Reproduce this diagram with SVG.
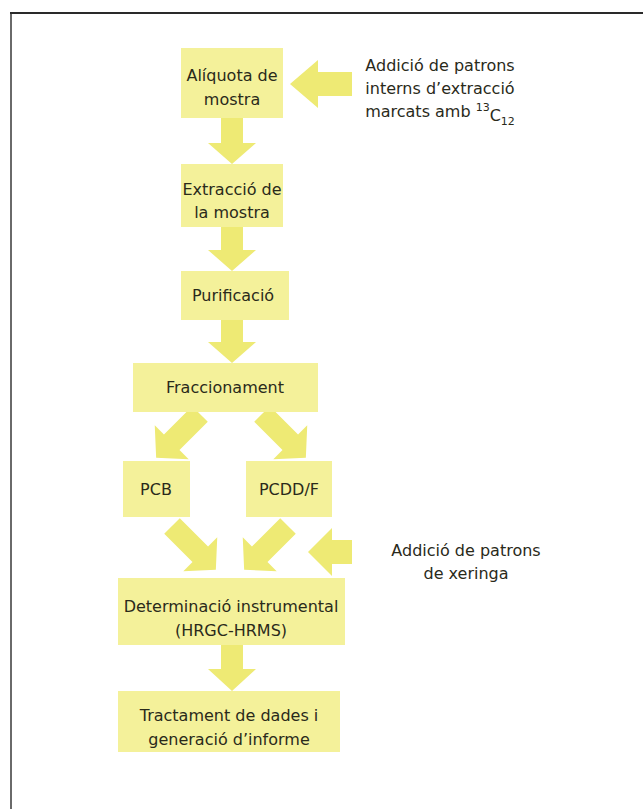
<svg xmlns="http://www.w3.org/2000/svg" width="643" height="809" viewBox="0 0 643 809">
<style>
.box{fill:#f4f19a}
.arr{fill:#eeea74}
text{font-family:"DejaVu Sans","Liberation Sans",sans-serif;font-size:16px;fill:#2a2a1a;text-anchor:middle}
</style>
<rect width="643" height="809" fill="#ffffff"/>
<path d="M11,809 V13" stroke="#6a6a6a" stroke-width="2" fill="none"/>
<path d="M10,13 H643" stroke="#2a2a2a" stroke-width="2" fill="none"/>
<g id="connectors">
  <polygon class="arr" points="221,118 243,118 243,143 256,143 232,164 208,143 221,143"/>
  <polygon class="arr" points="221,227 243,227 243,250 256,250 232,271 208,250 221,250"/>
  <polygon class="arr" points="221,320 243,320 243,342 256,342 232,363 208,342 221,342"/>
  <polygon class="arr" points="221,645 243,645 243,669 256,669 232,691 208,669 221,669"/>
  <polygon class="arr" points="352,72 352,96 318,96 318,108 290,84 318,60 318,72"/>
  <polygon class="arr" points="352,540 352,564 332,564 332,576 308,552 332,528 332,540"/>
  <g transform="translate(200,414) rotate(135)"><polygon class="arr" points="0,-11 40,-11 40,-24 62,0 40,24 40,11 0,11"/></g>
  <g transform="translate(262,414) rotate(45)"><polygon class="arr" points="0,-11 40,-11 40,-24 62,0 40,24 40,11 0,11"/></g>
  <g transform="translate(172,526) rotate(45)"><polygon class="arr" points="0,-11 40,-11 40,-24 62,0 40,24 40,11 0,11"/></g>
  <g transform="translate(288,526) rotate(135)"><polygon class="arr" points="0,-11 40,-11 40,-24 62,0 40,24 40,11 0,11"/></g>
</g>
<g id="n1"><rect class="box" x="181" y="48" width="102" height="70"/><text x="232" y="81">Alíquota de</text><text x="232" y="105">mostra</text></g>
<g id="n2"><rect class="box" x="181" y="164" width="102" height="63"/><text x="232" y="195">Extracció de</text><text x="232" y="218">la mostra</text></g>
<g id="n3"><rect class="box" x="181" y="271" width="108" height="49"/><text x="233" y="301">Purificació</text></g>
<g id="n4"><rect class="box" x="133" y="363" width="185" height="49"/><text x="225" y="393">Fraccionament</text></g>
<g id="n5"><rect class="box" x="123" y="461" width="67" height="56"/><text x="156" y="495">PCB</text></g>
<g id="n6"><rect class="box" x="246" y="461" width="86" height="56"/><text x="289" y="495">PCDD/F</text></g>
<g id="n7"><rect class="box" x="118" y="578" width="227" height="67"/><text x="231" y="612">Determinació instrumental</text><text x="231" y="636">(HRGC-HRMS)</text></g>
<g id="n8"><rect class="box" x="118" y="691" width="222" height="61"/><text x="229" y="721">Tractament de dades i</text><text x="229" y="745">generació d’informe</text></g>
<g id="t1"><text x="440" y="71">Addició de patrons</text><text x="440" y="94">interns d’extracció</text><text x="440" y="117">marcats amb <tspan font-size="11" dy="-6">13</tspan><tspan dy="10">C</tspan><tspan font-size="11" dy="4">12</tspan></text></g>
<g id="t2"><text x="466" y="556">Addició de patrons</text><text x="466" y="579">de xeringa</text></g>
</svg>
